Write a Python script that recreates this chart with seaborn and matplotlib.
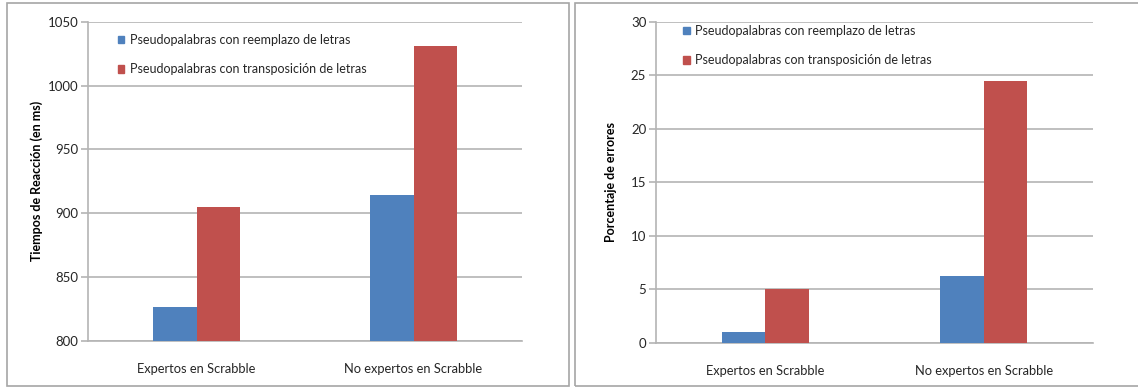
import matplotlib
matplotlib.use("Agg")
import matplotlib.pyplot as plt
from matplotlib.patches import Rectangle
import seaborn as sns
import pandas as pd

grupos = ["Expertos en Scrabble", "No expertos en Scrabble"]
condiciones = ["Pseudopalabras con reemplazo de letras",
               "Pseudopalabras con transposición de letras"]
tiempos_reemplazo = [827, 914]
tiempos_transposicion = [905, 1031]
errores_reemplazo = [1.0, 6.3]
errores_transposicion = [5.0, 24.5]

colores = ["#4F81BD", "#C0504D"]

sns.set_theme(style="white")
plt.rcParams["font.family"] = ["Lato", "DejaVu Sans"]

W, H = 1138, 389


def tabla(a, b):
    filas = []
    for g, va, vb in zip(grupos, a, b):
        filas.append({"grupo": g, "condicion": condiciones[0], "valor": va})
        filas.append({"grupo": g, "condicion": condiciones[1], "valor": vb})
    return pd.DataFrame(filas)


def caja(x0, y0, x1, y1):
    """Axes rectangle from pixel edges (top-left origin)."""
    return [x0 / W, 1 - y1 / H, (x1 - x0) / W, (y1 - y0) / H]


fig = plt.figure(figsize=(W / 100, H / 100), dpi=100)

# Panel frames
for x0, x1 in [(7, 569), (575, 1145)]:
    fig.add_artist(Rectangle((x0 / W, 3 / H), (x1 - x0) / W, 383 / H,
                             transform=fig.transFigure, fill=False,
                             edgecolor="#a6a6a6", linewidth=1.2))

ax1 = fig.add_axes(caja(88, 21.7, 522, 341))
ax2 = fig.add_axes(caja(656, 21.7, 1093, 343))

configs = [
    (ax1, tabla(tiempos_reemplazo, tiempos_transposicion), (800, 1050),
     range(800, 1051, 50), "Tiempos de Reacción (en ms)", (0.068, 0.962), 3),
    (ax2, tabla(errores_reemplazo, errores_transposicion), (0, 30),
     range(0, 31, 5), "Porcentaje de errores", (0.061, 0.99), 10),
]

for ax, df, ylim, ticks, ylabel, legpos, pad in configs:
    sns.barplot(data=df, x="grupo", y="valor", hue="condicion",
                palette=colores, width=0.4, saturation=1, ax=ax,
                linewidth=0, zorder=3, legend=False)
    ax.set_ylim(*ylim)
    ax.set_yticks(list(ticks))
    ax.set_xlim(-0.5, 1.5)
    ax.yaxis.grid(True, color="#b4b4b4", linewidth=1.2, zorder=0)
    ax.set_axisbelow(True)
    for s in ["top", "right"]:
        ax.spines[s].set_visible(False)
    for s in ["left", "bottom"]:
        ax.spines[s].set_color("#b4b4b4")
        ax.spines[s].set_linewidth(1.2)
    ax.tick_params(axis="y", left=True, length=5, width=1.2, color="#b4b4b4",
                   labelsize=9.5, pad=2, labelcolor="#262626")
    ax.tick_params(axis="x", bottom=False, labelsize=9.3, pad=10,
                   labelcolor="#262626")
    ax.set_xlabel("")
    ax.set_ylabel(ylabel, fontsize=9.0, fontweight="bold", labelpad=pad,
                  color="black")
    handles = [Rectangle((0, 0), 1, 1, color=c) for c in colores]
    ax.legend(handles, condiciones, loc="upper left", bbox_to_anchor=legpos,
              frameon=False, fontsize=9.0, handlelength=0.55,
              handleheight=0.55, handletextpad=0.45, labelspacing=1.4,
              borderpad=0, borderaxespad=0, labelcolor="#262626")

fig.savefig("out.png", dpi=100)
